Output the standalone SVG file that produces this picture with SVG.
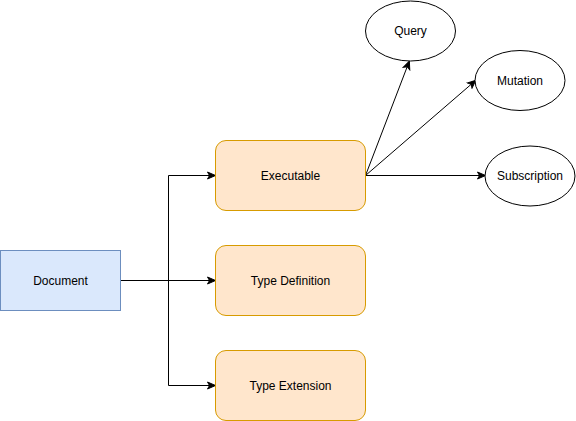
<svg xmlns="http://www.w3.org/2000/svg" width="576" height="421" viewBox="0 0 576 421">
<defs>
<marker id="arr" markerWidth="10" markerHeight="10" refX="8" refY="5" orient="auto" markerUnits="userSpaceOnUse">
<path d="M1,1.5 L9,5 L1,8.5 L3,5 Z" fill="#000" stroke="#000" stroke-width="1"/>
</marker>
<style>
.lbl{font-family:"Liberation Sans",Arial,sans-serif;font-size:12px;fill:#000;text-anchor:middle;dominant-baseline:central}
.orange{fill:#ffe6cc;stroke:#d79b00;stroke-width:1}
.blue{fill:#dae8fc;stroke:#6c8ebf;stroke-width:1}
.ell{fill:#fff;stroke:#000;stroke-width:1}
.edge{fill:none;stroke:#000;stroke-width:1;marker-end:url(#arr)}
</style>
</defs>
<rect width="576" height="421" fill="#fff"/>
<g id="connectors">
<path class="edge" d="M120.5,280.5 H168.5 V175.5 H214.5"/>
<path class="edge" d="M120.5,280.5 H214.5"/>
<path class="edge" d="M168.5,280.5 V385.5 H214.5"/>
<path class="edge" d="M365.5,175.5 L409,62"/>
<path class="edge" d="M365.5,175.5 L475,81"/>
<path class="edge" d="M365.5,175.5 H484.5"/>
</g>
<g id="document">
<rect class="blue" x="0.5" y="250.5" width="120" height="60"/>
<text class="lbl" x="60.5" y="280.5">Document</text>
</g>
<g id="executable">
<rect class="orange" x="215.5" y="140.5" width="150" height="70" rx="10.5" ry="10.5"/>
<text class="lbl" x="290.5" y="175.5">Executable</text>
</g>
<g id="typedefinition">
<rect class="orange" x="215.5" y="245.5" width="150" height="70" rx="10.5" ry="10.5"/>
<text class="lbl" x="290.5" y="280.5">Type Definition</text>
</g>
<g id="typeextension">
<rect class="orange" x="215.5" y="350.5" width="150" height="70" rx="10.5" ry="10.5"/>
<text class="lbl" x="290.5" y="385.5">Type Extension</text>
</g>
<g id="query">
<ellipse class="ell" cx="410.5" cy="31" rx="45" ry="30"/>
<text class="lbl" x="410.5" y="31">Query</text>
</g>
<g id="mutation">
<ellipse class="ell" cx="520" cy="80.5" rx="45" ry="30"/>
<text class="lbl" x="520" y="80.5">Mutation</text>
</g>
<g id="subscription">
<ellipse class="ell" cx="530" cy="176" rx="45" ry="30"/>
<text class="lbl" x="530" y="176">Subscription</text>
</g>
</svg>
